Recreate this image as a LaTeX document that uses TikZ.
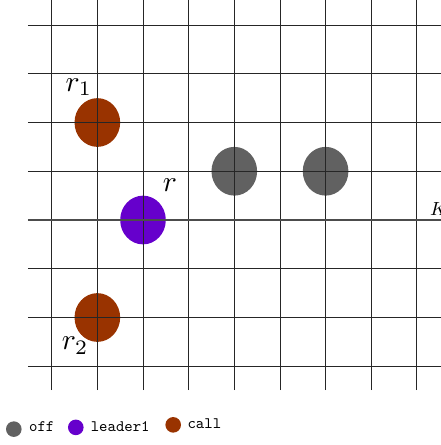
\documentclass[tikz,border=0pt]{standalone}
\usetikzlibrary{shapes.geometric}
\definecolor{offc}{RGB}{97,97,97}
\definecolor{leadc}{RGB}{102,0,204}
\definecolor{callc}{RGB}{153,51,0}
\begin{document}
\begin{tikzpicture}[x=45.65pt,y=48.75pt,
  agent/.style={ellipse,minimum width=45.65pt,minimum height=48.75pt,inner sep=0pt,draw=none},
  gridline/.style={line width=0.8pt,draw=black!85},
  axisline/.style={line width=2pt,draw=black!70},
  lbl/.style={inner sep=0pt,anchor=base west,scale=2.95},
  legdot/.style={circle,minimum size=15.6pt,inner sep=0pt},
  legtxt/.style={inner sep=0pt,anchor=base west,scale=1.6,font=\ttfamily}]
\useasboundingbox (-3.1325,-4.6154) rectangle (6.528,4.513);
\clip (-3.1325,-4.6154) rectangle (6.528,4.513);
% agents
\node[agent,fill=callc] (r1) at (-1,2) {};
\node[agent,fill=offc] (o1) at (2,1) {};
\node[agent,fill=offc] (o2) at (4,1) {};
\node[agent,fill=leadc] (r) at (0,0) {};
\node[agent,fill=callc] (r2) at (-1,-2) {};
% grid
\foreach \j in {-3,...,4} \draw[gridline] (-2.52,\j) -- (6.7,\j);
\foreach \i in {-2,...,6} \draw[gridline] (\i,-3.49) -- (\i,4.7);
\coordinate (kL) at (-2.52,0);
\coordinate (kR) at (6.7,0);
\draw[axisline] (kL) -- (kR);
% labels
\node[lbl] (lr1) at (-1.71,2.64) {$r_1$};
\node[lbl] (lr) at (0.42,0.58) {$r$};
\node[lbl] (lr2) at (-1.79,-2.66) {$r_2$};
\node[inner sep=0pt,anchor=base west,scale=1.9] (lk) at (6.28,0.1) {$K$};
% legend
\node[legdot,fill=offc] (d1) at (-2.83,-4.29) {};
\node[legtxt] (t1) at (-2.50,-4.33) {off};
\node[legdot,fill=leadc] (d2) at (-1.472,-4.254) {};
\node[legtxt] (t2) at (-1.15,-4.33) {leader1};
\node[legdot,fill=callc] (d3) at (0.662,-4.202) {};
\node[legtxt] (t3) at (0.97,-4.275) {call};
\end{tikzpicture}
\end{document}
